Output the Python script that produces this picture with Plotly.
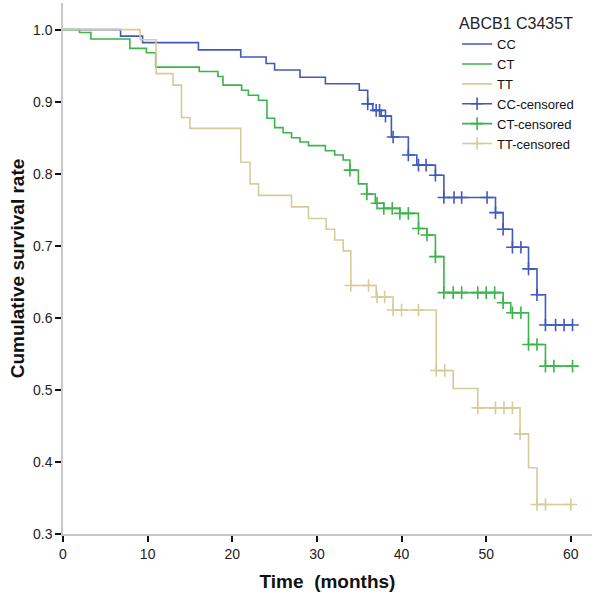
import plotly.graph_objects as go

# ---- data (Kaplan-Meier style) ----
groups = ["CC", "CT", "TT"]

CC_times = [0, 6.8, 9.4, 16.0, 21.0, 24.0, 25.0, 28.0, 31.0, 35.0, 36.0, 36.6, 37.6, 38.8,
            40.8, 41.8, 44.0, 45.0, 51.1, 52.0, 53.1, 55.0, 56.0, 57.0]
CC_surv = [1.0, 0.991, 0.982, 0.972, 0.962, 0.953, 0.944, 0.934, 0.925, 0.916, 0.897, 0.888,
           0.880, 0.851, 0.826, 0.812, 0.798, 0.767, 0.746, 0.723, 0.698, 0.668, 0.632, 0.590]
CC_censor = [36.0, 37.0, 37.4, 38.1, 39.0, 40.8, 42.0, 42.9, 44.0, 45.0, 46.2, 47.1, 50.1,
             51.1, 52.0, 53.1, 54.1, 55.0, 56.0, 57.0, 58.2, 59.2, 60.2]

CT_times = [0, 1.95, 3.3, 7.9, 9.85, 10.95, 16.1, 18.3, 18.9, 21.1, 21.9, 23.1, 24.1, 25.0,
            26.0, 27.0, 28.0, 29.0, 31.0, 32.1, 33.1, 33.9, 34.9, 35.9, 36.9, 37.9, 39.8,
            42.0, 43.0, 44.0, 45.0, 52.0, 52.9, 55.0, 57.0]
CT_surv = [1.0, 0.996, 0.987, 0.974, 0.968, 0.948, 0.942, 0.935, 0.923, 0.916, 0.909, 0.902,
           0.877, 0.864, 0.857, 0.850, 0.844, 0.839, 0.832, 0.826, 0.819, 0.805, 0.786, 0.772,
           0.759, 0.752, 0.745, 0.724, 0.715, 0.685, 0.635, 0.621, 0.607, 0.563, 0.533]
CT_censor = [33.9, 35.9, 37.1, 37.9, 38.9, 39.8, 40.8, 42.0, 43.0, 44.0, 45.0, 46.1, 47.1,
             49.0, 50.0, 51.0, 52.0, 53.1, 54.1, 55.0, 56.0, 57.0, 58.0, 60.2]

TT_times = [0, 9.1, 11.0, 13.0, 14.0, 15.0, 21.0, 22.1, 23.1, 27.0, 29.0, 31.1, 32.1, 33.1,
            34.0, 37.0, 39.0, 44.1, 46.1, 49.0, 54.0, 55.0, 56.0]
TT_surv = [1.0, 0.986, 0.939, 0.923, 0.878, 0.863, 0.816, 0.786, 0.770, 0.754, 0.738, 0.723,
           0.708, 0.693, 0.645, 0.629, 0.611, 0.527, 0.502, 0.475, 0.439, 0.392, 0.341]
TT_censor = [34.0, 36.1, 37.1, 38.0, 39.0, 40.0, 42.0, 44.1, 45.1, 49.0, 51.1, 52.1, 53.1,
             54.0, 56.0, 57.0, 60.0]

x_ticks = [0, 10, 20, 30, 40, 50, 60]
y_ticks = [0.3, 0.4, 0.5, 0.6, 0.7, 0.8, 0.9, 1.0]

colors = {"CC": "#4158BE", "CT": "#3DB34B", "TT": "#D5CC99"}
series = {
    "CC": (CC_times, CC_surv, CC_censor),
    "CT": (CT_times, CT_surv, CT_censor),
    "TT": (TT_times, TT_surv, TT_censor),
}


def surv_at(times, surv, t):
    s = surv[0]
    for ti, si in zip(times, surv):
        if ti <= t + 1e-9:
            s = si
    return s


FONT = "Arial, Liberation Sans, sans-serif"
fig = go.Figure()

for g in groups:
    times, surv, cens = series[g]
    end = max(max(times), max(cens))
    fig.add_trace(go.Scatter(
        x=list(times) + [end], y=list(surv) + [surv[-1]],
        mode="lines", line=dict(shape="hv", color=colors[g], width=1.6),
        name=g, hoverinfo="skip"))

for g in groups:
    times, surv, cens = series[g]
    xs, ys = [], []
    for c in cens:
        xs += [c, None]
        ys += [surv_at(times, surv, c), None]
    fig.add_trace(go.Scatter(
        x=xs, y=ys, mode="lines+markers", connectgaps=False,
        line=dict(color=colors[g], width=1.6),
        marker=dict(symbol="cross-thin", size=9,
                    line=dict(color=colors[g], width=1.6)),
        name=g + "-censored", hoverinfo="skip"))

fig.update_layout(
    width=600, height=595,
    margin=dict(l=63, r=8, t=3, b=61, autoexpand=False),
    paper_bgcolor="white", plot_bgcolor="white",
    font=dict(family=FONT, color="#222222", size=14),
    showlegend=True,
    legend=dict(
        x=0.745, y=0.99, xanchor="left", yanchor="top",
        bgcolor="rgba(0,0,0,0)",
        title=dict(text="ABCB1 C3435T", font=dict(size=16, color="#222222", family=FONT), side="top"),
        font=dict(size=13, color="#111111", family=FONT),
        tracegroupgap=0, itemwidth=30,
    ),
    xaxis=dict(
        range=[0, 62.5], tickvals=x_ticks, ticktext=[str(v) for v in x_ticks],
        showgrid=False, zeroline=False, automargin=False,
        showline=True, linecolor="#C8C8C8", linewidth=1.5,
        ticks="outside", ticklen=6, tickwidth=1.5, tickcolor="#111111",
        tickfont=dict(size=14, color="#222222"),
        title=dict(text="Time\u00a0 (months)", font=dict(size=19, color="#111111", family=FONT, weight="bold"), standoff=14),
    ),
    yaxis=dict(
        range=[0.3, 1.037], tickvals=y_ticks, ticktext=[f"{v:.1f}" for v in y_ticks],
        showgrid=False, zeroline=False, automargin=False,
        showline=True, linecolor="#C8C8C8", linewidth=1.5,
        ticks="outside", ticklen=6, tickwidth=1.5, tickcolor="#111111",
        tickfont=dict(size=14, color="#222222"),
        title=dict(text="Cumulative survival rate", font=dict(size=19, color="#111111", family=FONT, weight="bold"), standoff=3),
    ),
)

fig.write_html("out.html", config={"displayModeBar": False},
               post_script="document.body.style.margin='0';")
